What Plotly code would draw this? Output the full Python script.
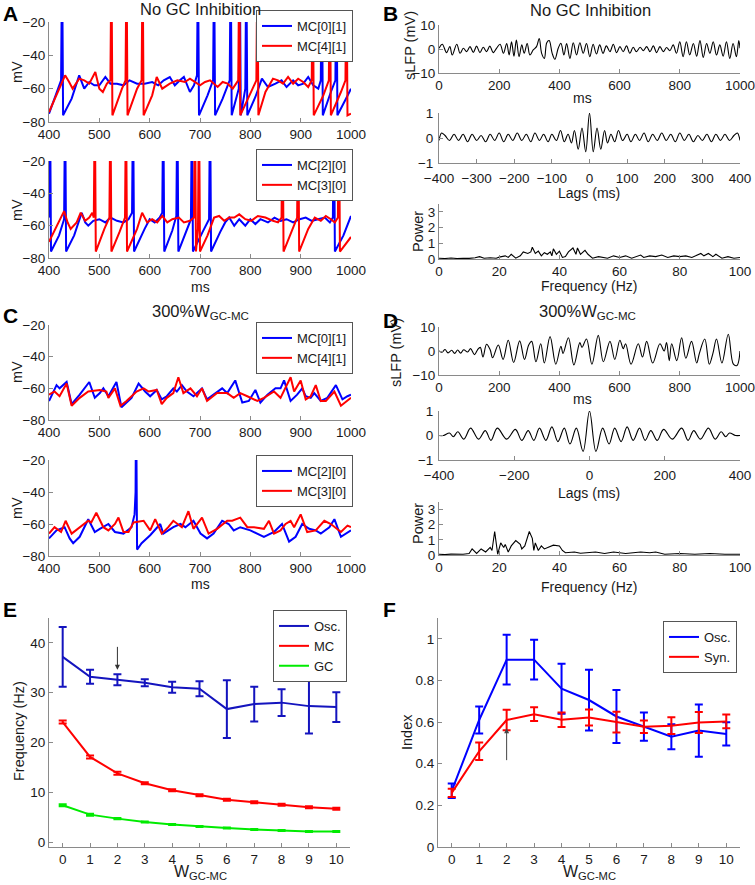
import plotly.graph_objects as go

W, H = 755, 885
FONT = "Liberation Sans, Arial, sans-serif"
BLUE = "rgb(0,0,255)"
RED = "rgb(255,0,0)"
GREEN = "rgb(0,235,0)"
EBLUE = "rgb(20,20,190)"
AXC = "#8a8a8a"

# ---------------- data: panel A (No GC inhibition), (t ms, mV) ----------------
a1_mc01 = [(400,-75),(424,-55),(426,20),(428,-76),(445,-66),(460,-52),(470,-60),(480,-56),(490,-58),
           (500,-58),(512,-53),(522,-57),(535,-57),(548,-58),(560,-55),(575,-57),(590,-57),(605,-56),
           (617,-58),(628,-55),(640,-53),(650,-58),(660,-55),(668,-53),(680,-62),(688,-58),(694,-52),
           (696,20),(698,-76),(715,-64),(726,-55),(728,20),(730,-76),(745,-66),(759,-55),(761,20),
           (763,-76),(777,-60),(779,20),(781,-76),(790,-60),(792,20),(794,-76),(810,-65),(823,-54),
           (835,-59),(850,-57),(862,-55),(872,-59),(885,-55),(895,-58),(905,-57),(915,-53),(925,-58),
           (935,-60),(940,-55),(942,20),(944,-76),(960,-62),(969,-55),(971,20),(973,-76),(990,-66),(1000,-60)]
a1_mc41 = [(400,-74),(420,-60),(432,-52),(440,-56),(447,-60),(460,-54),(470,-55),(480,-57),(492,-50),
           (500,-60),(507,-62),(515,-57),(522,-55),(524,20),(526,-76),(545,-60),(552,-55),(554,20),
           (556,-76),(575,-60),(584,-55),(586,20),(588,-76),(605,-64),(614,-53),(625,-60),(640,-57),
           (655,-55),(670,-56),(680,-54),(690,-56),(700,-58),(710,-56),(720,-55),(735,-59),(745,-56),
           (755,-57),(765,-60),(776,-55),(778,20),(780,-76),(795,-66),(812,-55),(814,20),(816,-76),
           (830,-62),(845,-54),(855,-55),(865,-57),(875,-53),(885,-57),(895,-54),(905,-56),(915,-59),
           (922,-55),(924,20),(926,-76),(945,-64),(956,-55),(958,20),(960,-76),(980,-62),(989,-55),
           (991,20),(993,-76),(1000,-75)]
a2_mc20 = [(400,-55),(401,-50),(402,20),(404,-76),(420,-66),(430,-56),(432,20),(434,-76),(450,-66),
           (458,-58),(465,-52),(472,-58),(478,-60),(488,-57),(500,-56),(512,-58),(522,-55),(535,-57),
           (548,-58),(558,-56),(565,-52),(567,20),(569,-76),(590,-62),(600,-56),(610,-58),(620,-55),
           (625,-52),(627,20),(629,-76),(645,-63),(653,-54),(655,20),(657,-76),(675,-62),(682,-56),
           (684,20),(686,-76),(705,-64),(718,-56),(720,20),(722,-76),(740,-64),(750,-58),(758,-55),
           (768,-60),(778,-56),(790,-60),(800,-56),(810,-59),(820,-56),(835,-58),(848,-55),(860,-57),
           (872,-56),(885,-58),(898,-56),(910,-55),(922,-57),(935,-56),(948,-55),(958,-58),(964,-55),
           (966,20),(968,-76),(985,-66),(1000,-54)]
a2_mc30 = [(400,-70),(415,-60),(430,-51),(437,-58),(443,-62),(455,-58),(463,-52),(472,-57),(480,-55),
           (486,-52),(489,-55),(491,20),(493,-76),(510,-62),(520,-55),(522,20),(524,-76),(540,-64),
           (551,-55),(553,20),(555,-76),(575,-62),(585,-52),(595,-58),(605,-56),(615,-58),(625,-54),
           (635,-58),(645,-56),(658,-55),(668,-58),(680,-57),(688,-55),(690,20),(692,-76),(696,-62),
           (698,20),(700,-76),(715,-66),(728,-55),(738,-54),(748,-57),(758,-55),(768,-55),(778,-53),
           (790,-56),(802,-57),(815,-54),(830,-55),(845,-57),(855,-58),(862,-55),(864,20),(866,-76),
           (885,-62),(893,-55),(895,20),(897,-76),(915,-62),(928,-55),(940,-57),(950,-54),(960,-56),
           (968,-58),(974,-55),(976,20),(978,-76),(1000,-67)]

# ---------------- data: panel C (300% W_GC-MC) ----------------
c1_mc01 = [(400,-68),(415,-58),(421,-60),(435,-56),(445,-70),(461,-64),(480,-56),(491,-66),(501,-63),
           (508,-60),(518,-65),(534,-56),(544,-72),(564,-66),(578,-57),(591,-62),(601,-65),(614,-61),
           (624,-67),(634,-65),(647,-60),(654,-62),(664,-58),(674,-62),(687,-65),(704,-60),(714,-67),
           (727,-64),(744,-60),(754,-63),(770,-55),(784,-69),(797,-68),(810,-61),(820,-69),(834,-64),
           (850,-60),(860,-60),(867,-55),(880,-68),(893,-64),(903,-60),(910,-65),(920,-66),(927,-63),
           (940,-68),(953,-66),(970,-58),(983,-67),(993,-65),(1000,-64)]
c1_mc41 = [(400,-64),(411,-62),(421,-65),(435,-57),(445,-71),(461,-66),(478,-62),(501,-61),(514,-62),
           (518,-66),(531,-60),(542,-71),(554,-68),(574,-62),(588,-60),(598,-62),(614,-61),(624,-70),
           (634,-66),(647,-63),(657,-53),(667,-63),(681,-60),(694,-65),(704,-60),(714,-68),(734,-63),
           (754,-63),(767,-66),(780,-63),(794,-65),(814,-68),(827,-66),(847,-62),(860,-66),(880,-53),
           (887,-62),(893,-59),(900,-55),(910,-67),(920,-65),(930,-58),(940,-68),(950,-68),(967,-62),
           (980,-71),(1000,-66)]
c2_mc20 = [(400,-69),(415,-64),(431,-62),(441,-69),(448,-72),(461,-68),(478,-57),(491,-65),(501,-63),
           (518,-60),(531,-65),(548,-66),(564,-62),(570,-54),(572,-40),(573,20),(575,-76),(584,-72),
           (601,-67),(621,-60),(627,-66),(647,-62),(661,-60),(671,-62),(687,-58),(701,-66),(714,-69),
           (727,-66),(744,-58),(757,-60),(767,-64),(780,-62),(800,-64),(815,-66),(827,-68),(847,-65),
           (863,-60),(877,-71),(890,-68),(903,-60),(917,-63),(930,-64),(940,-66),(957,-62),(967,-57),
           (980,-68),(1000,-64)]
c2_mc30 = [(400,-66),(411,-62),(424,-65),(433,-58),(445,-66),(461,-62),(478,-58),(484,-59),(494,-53),
           (508,-62),(518,-64),(531,-60),(538,-56),(548,-65),(558,-65),(568,-59),(588,-58),(601,-64),
           (611,-57),(624,-66),(637,-62),(647,-58),(664,-62),(677,-52),(687,-63),(704,-56),(717,-66),
           (734,-63),(754,-58),(764,-58),(780,-56),(794,-62),(807,-62),(827,-63),(837,-58),(847,-66),
           (860,-64),(870,-60),(880,-58),(887,-62),(900,-54),(913,-65),(930,-64),(947,-58),(960,-60),
           (980,-65),(993,-61),(1000,-62)]

# ---------------- data: panel B / D (sLFP, autocorrelation, power) ----------------
b_lfp = [(0,0.3),(11,2),(25,-1.5),(36,1),(44,-2.5),(59,2),(70,-1.8),(81,0.3),(92,-1.1),(103,1),
         (114,-1.4),(125,1.2),(136,-1.5),(147,0.7),(158,-1.1),(169,1.2),(180,-1.5),(191,0.3),(203,2),
         (214,-1.8),(225,2.3),(233,-2.5),(241,3),(249,-3),(257,3.7),(266,-3.2),(275,1.7),(283,-1.8),
         (293,2.3),(302,-2.5),(313,-0.4),(324,1),(333,4.4),(341,-1.8),(350,-3.9),(358,2.6),(366,3.5),
         (376,-1.8),(385,-4.3),(396,0.3),(405,2.4),(415,-2.5),(424,2.3),(435,-3.9),(446,2.6),(457,-2.5),
         (468,2.6),(479,-1.8),(490,2.3),(501,-3.2),(512,2),(523,-2.1),(534,1.7),(545,-1.8),(556,1.3),
         (568,-1.1),(579,2),(590,-1.5),(601,1),(612,-1.1),(623,1.3),(634,-1.8),(645,0.7),(656,-1.1),
         (668,0.7),(679,-0.7),(690,1),(701,-1.1),(712,1.3),(723,-1.5),(734,1),(745,-1.1),(756,0.6),
         (767,-0.7),(778,1.7),(789,-1.8),(800,3),(811,-3.2),(822,3),(833,-2.5),(845,2.3),(856,-3),
         (867,3.5),(878,-3.5),(889,2.3),(900,-1.8),(911,3),(922,-2.5),(933,1.7),(944,-3),(955,3),
         (966,-3.9),(977,2.3),(988,-3.2),(996,3.5),(1000,0.3)]
d_lfp = [(0,0),(10,-0.5),(20,0.6),(30,-0.8),(42,0.3),(52,-1),(62,0.4),(72,-0.9),(82,0.5),(95,-0.4),
         (105,1),(118,-1.5),(128,0.5),(137,1.5),(146,-2.5),(158,2.8),(170,0.5),(178,-2.8),(197,2.5),
         (213,-3.5),(230,4.5),(248,-4.8),(268,4.2),(284,-3.5),(298,2.5),(308,4),(322,-4.5),(338,3),
         (350,-5),(369,6),(388,-5.5),(405,2),(412,-1),(430,5.5),(448,-5.8),(468,3.5),(475,1.5),(490,5),
         (508,-5.5),(529,6.5),(546,-4.5),(568,4),(584,-3.5),(601,4.5),(612,1),(620,3),(638,-5.5),
         (662,3),(676,-2.5),(690,4),(710,-5),(734,3),(748,0),(756,3.5),(765,-4),(773,3),(790,-4),
         (806,5.5),(820,-3),(839,4),(856,-5),(865,-1),(883,5),(898,-5.5),(910,-1),(922,5),(940,-5),
         (961,7),(978,-5.5),(990,-6),(1000,0)]
# autocorrelation, non-negative lags (function is symmetric)
b_lag_pos = [(0,1),(10,-0.55),(20,0.4),(30,-0.45),(40,0.3),(48,-0.2),(57,0.15),(67,-0.15),(77,0.3),
             (88,-0.1),(100,0.15),(110,-0.15),(122,0.15),(133,-0.1),(145,0.2),(156,-0.15),(168,0.15),
             (180,-0.1),(192,0.2),(204,-0.1),(216,0.15),(228,-0.15),(240,0.2),(252,-0.1),(264,0.15),
             (276,-0.15),(288,0.1),(300,-0.1),(312,0.15),(324,-0.15),(336,0.15),(348,-0.1),(360,0.15),
             (372,-0.1),(384,0.1),(393,0.2),(400,-0.1)]
d_lag_pos = [(0,1),(17,-0.65),(35,0.3),(52,-0.35),(67,0.3),(84,-0.25),(100,0.35),(116,-0.2),
             (133,0.3),(148,-0.2),(163,0.2),(180,-0.2),(197,0.25),(220,-0.15),(245,0.3),(262,-0.2),
             (277,0.2),(295,-0.15),(316,0.3),(334,-0.15),(350,0.15),(362,-0.05),(372,0.1),(388,0.0),(400,0.0)]
b_pow = [(0,0.05),(2,0.03),(4,0.06),(6,0.03),(8,0.05),(10,0.04),(12,0.08),(13.5,0.15),(15,0.05),
         (17,0.08),(19,0.05),(20,0.12),(22,0.2),(23,0.1),(24,0.3),(25.5,0.05),(27,0.2),(28,0.45),
         (29.5,0.35),(30.5,0.45),(31,0.75),(32,0.35),(33,0.5),(34,0.2),(35,0.4),(36,0.3),(37,0.45),
         (37.5,0.2),(38,0.65),(39,0.3),(40,0.5),(41,0.1),(42,0.15),(43,0.45),(44.5,0.7),(45.5,0.3),
         (46,0.7),(47,0.3),(48.5,0.55),(49.5,0.3),(51,0.05),(53,0.15),(56,0.05),(58,0.2),(60,0.1),
         (62,0.2),(64,0.05),(67,0.25),(68,0.1),(70,0.2),(72,0.15),(74,0.25),(76,0.1),(78,0.2),(80,0.15),
         (82,0.2),(84,0.1),(87,0.35),(88,0.2),(89.5,0.35),(91,0.15),(92,0.3),(94,0.05),(96,0.15),
         (98,0.05),(100,0.1)]
d_pow = [(0,0.05),(2,0.03),(4,0.06),(6,0.04),(8,0.05),(10,0.1),(11,0.4),(12.5,0.1),(14,0.4),
         (15.5,0.2),(17,0.5),(17.6,0.3),(18.5,1.55),(19.5,0.05),(20.5,0.8),(21.5,0.5),(22,0.7),
         (23,0.2),(24,0.6),(25.5,0.95),(27,0.7),(27.5,0.4),(28.5,0.6),(30,1.55),(31,1.1),(31.5,0.3),
         (32,0.8),(33,0.3),(34,0.6),(35,0.4),(36,0.5),(38,0.65),(40,0.6),(41,0.3),(42,0.15),(45,0.2),
         (47,0.12),(50,0.15),(52,0.2),(55,0.1),(58,0.2),(62,0.1),(65,0.15),(67,0.2),(70,0.15),(72,0.2),
         (75,0.05),(80,0.1),(85,0.05),(90,0.1),(95,0.05),(100,0.05)]

# ---------------- data: panels E and F ----------------
w_gc_mc = [0, 1, 2, 3, 4, 5, 6, 7, 8, 9, 10]
e_osc = [37.2, 33.2, 32.6, 32.0, 31.1, 30.8, 26.7, 27.7, 28.0, 27.3, 27.1]
e_osc_err = [6.0, 1.4, 1.1, 0.7, 1.1, 1.5, 5.8, 3.5, 2.7, 5.5, 3.0]
e_mc = [24.1, 17.1, 13.8, 11.8, 10.4, 9.4, 8.5, 8.0, 7.5, 7.0, 6.7]
e_mc_err = [0.3, 0.3, 0.3, 0.2, 0.2, 0.2, 0.2, 0.2, 0.2, 0.2, 0.2]
e_gc = [7.4, 5.5, 4.7, 4.0, 3.5, 3.1, 2.8, 2.5, 2.3, 2.1, 2.1]
e_gc_err = [0.2, 0.2, 0.15, 0.1, 0.1, 0.1, 0.1, 0.1, 0.1, 0.1, 0.1]
f_osc = [0.27, 0.61, 0.90, 0.90, 0.76, 0.706, 0.627, 0.578, 0.53, 0.559, 0.543]
f_osc_err = [0.035, 0.065, 0.12, 0.095, 0.12, 0.146, 0.127, 0.068, 0.06, 0.125, 0.056]
f_syn = [0.26, 0.46, 0.61, 0.638, 0.611, 0.622, 0.60, 0.578, 0.583, 0.598, 0.603]
f_syn_err = [0.02, 0.042, 0.049, 0.033, 0.035, 0.038, 0.05, 0.03, 0.04, 0.05, 0.033]


def xs(pairs):
    return [p[0] for p in pairs]


def ys(pairs):
    return [p[1] for p in pairs]


def mirror(pos):
    neg = [(-t, v) for t, v in reversed(pos[1:])]
    return neg + pos


fig = go.Figure()

# axis id: (x px range, y px range(top,bottom), xrange, yrange, xticks, yticks)
axes = {
    1: ((49, 351), (22, 122), [400, 1000], [-80, -20], list(range(400, 1001, 100)), [-80, -60, -40, -20]),
    2: ((49, 351), (161, 258), [400, 1000], [-80, -20], list(range(400, 1001, 100)), [-80, -60, -40, -20]),
    3: ((49, 351), (325, 420), [400, 1000], [-80, -20], list(range(400, 1001, 100)), [-80, -60, -40, -20]),
    4: ((49, 351), (460, 556), [400, 1000], [-80, -20], list(range(400, 1001, 100)), [-80, -60, -40, -20]),
    5: ((439, 740), (25, 73), [0, 1000], [-10, 10], list(range(0, 1001, 200)), [-10, 0, 10]),
    6: ((439, 740), (113, 163), [-400, 400], [-1, 1], list(range(-400, 401, 100)), [-1, 0, 1]),
    7: ((439, 740), (204, 259), [0, 100], [0, 3.5], list(range(0, 101, 20)), [0, 1, 2, 3]),
    8: ((439, 740), (327, 375), [0, 1000], [-10, 10], list(range(0, 1001, 200)), [-10, 0, 10]),
    9: ((439, 740), (411, 460), [-400, 400], [-1, 1], list(range(-400, 401, 200)), [-1, 0, 1]),
    10: ((439, 740), (502, 555), [0, 100], [0, 3.5], list(range(0, 101, 20)), [0, 1, 2, 3]),
    11: ((49, 350), (618, 847), [-0.5, 10.5], [-1, 45], w_gc_mc, [0, 10, 20, 30, 40]),
    12: ((438, 740), (618, 847), [-0.5, 10.5], [0, 1.1], w_gc_mc, [0, 0.2, 0.4, 0.6, 0.8, 1]),
}

TICKF = dict(family=FONT, size=13.5, color="#1a1a1a")

lay = {}
for i, (xp, yp, xr, yr, xt, yt) in axes.items():
    sx = "" if i == 1 else str(i)
    lay["xaxis" + sx] = dict(
        domain=[xp[0] / W, xp[1] / W], range=xr, anchor="y" + sx, tickvals=xt,
        ticks="inside", ticklen=4, tickcolor=AXC, showline=True, linecolor=AXC, linewidth=1,
        showgrid=False, zeroline=False, tickfont=TICKF, fixedrange=True, automargin=False,
        ticklabeloverflow="allow", ticklabelstandoff=3 if i in (6, 9) else 0)
    lay["yaxis" + sx] = dict(
        domain=[1 - yp[1] / H, 1 - yp[0] / H], range=yr, anchor="x" + sx, tickvals=yt,
        ticks="inside", ticklen=4, tickcolor=AXC, showline=True, linecolor=AXC, linewidth=1,
        showgrid=False, zeroline=False, tickfont=TICKF, fixedrange=True, automargin=False,
        ticklabeloverflow="allow", ticklabelstandoff=2 if i in (6, 9) else 0)


def ax(i):
    return ("x", "y") if i == 1 else ("x%d" % i, "y%d" % i)


def trace(i, pairs, color, name=None, legend=None, width=2, shape="linear"):
    xa, ya = ax(i)
    fig.add_trace(go.Scatter(
        x=xs(pairs), y=ys(pairs), mode="lines", xaxis=xa, yaxis=ya,
        line=dict(color=color, width=width, shape=shape),
        name=name, showlegend=name is not None, legend=legend, hoverinfo="skip"))


trace(1, a1_mc01, BLUE, "MC[0][1]", "legend")
trace(1, a1_mc41, RED, "MC[4][1]", "legend")
trace(2, a2_mc20, BLUE, "MC[2][0]", "legend2")
trace(2, a2_mc30, RED, "MC[3][0]", "legend2")
trace(3, c1_mc01, BLUE, "MC[0][1]", "legend3")
trace(3, c1_mc41, RED, "MC[4][1]", "legend3")
trace(4, c2_mc20, BLUE, "MC[2][0]", "legend4")
trace(4, c2_mc30, RED, "MC[3][0]", "legend4")

trace(5, b_lfp, "black", width=1.1, shape="spline")
trace(6, mirror(b_lag_pos), "black", width=1.1, shape="spline")
trace(7, b_pow, "black", width=1.1)
trace(8, d_lfp, "black", width=1.1, shape="spline")
trace(9, mirror(d_lag_pos), "black", width=1.1, shape="spline")
trace(10, d_pow, "black", width=1.1)


def errtrace(i, x, y, err, color, name, legend):
    xa, ya = ax(i)
    fig.add_trace(go.Scatter(
        x=x, y=y, mode="lines", xaxis=xa, yaxis=ya, name=name, legend=legend,
        line=dict(color=color, width=2),
        error_y=dict(type="data", array=err, visible=True, color=color, thickness=2, width=4),
        hoverinfo="skip"))


errtrace(11, w_gc_mc, e_osc, e_osc_err, EBLUE, "Osc.", "legend5")
errtrace(11, w_gc_mc, e_mc, e_mc_err, RED, "MC", "legend5")
errtrace(11, w_gc_mc, e_gc, e_gc_err, GREEN, "GC", "legend5")
errtrace(12, w_gc_mc, f_osc, f_osc_err, BLUE, "Osc.", "legend6")
errtrace(12, w_gc_mc, f_syn, f_syn_err, RED, "Syn.", "legend6")


def legbox(right_px, top_px):
    return dict(x=right_px / W, y=1 - top_px / H, xanchor="right", yanchor="top",
                bgcolor="white", bordercolor="#555", borderwidth=1,
                font=dict(family=FONT, size=13, color="#1a1a1a"),
                itemwidth=30, tracegroupgap=0)


lay.update(
    legend=legbox(353, 10),
    legend2=legbox(353, 149),
    legend3=legbox(353, 322),
    legend4=legbox(353, 455),
    legend5=legbox(347, 610),
    legend6=legbox(737, 621),
)

ann = []


def label(txt, x, y, size=14.5, angle=0, anchor="center", bold=False, yanchor="middle"):
    ann.append(dict(text=("<b>%s</b>" % txt) if bold else txt, x=x / W, y=1 - y / H,
                    xref="paper", yref="paper", xanchor=anchor, yanchor=yanchor,
                    showarrow=False, textangle=angle,
                    font=dict(family=FONT, size=size, color="black" if bold else "#1a1a1a")))


# panel letters
for txt, x, y in [("A", 1, 0), ("B", 381, 0), ("C", 1, 302), ("D", 381, 307), ("E", 1, 596), ("F", 381, 596)]:
    label(txt, x, y, size=21, anchor="left", bold=True, yanchor="top")
# panel titles
label("No GC Inhibition", 200, 9, size=16.5)
label("No GC Inhibition", 590, 10, size=16.5)
label("300%W<sub>GC-MC</sub>", 200, 312, size=16.5)
label("300%W<sub>GC-MC</sub>", 587, 312, size=16.5)
# y-axis titles
for txt, x, y in [("mV", 17, 72), ("mV", 17, 210), ("mV", 17, 372), ("mV", 17, 508),
                  ("sLFP (mV)", 410, 46), ("Power", 418, 232), ("sLFP (mV)", 396, 352),
                  ("Power", 418, 524), ("Frequency (Hz)", 19, 731), ("Index", 407, 732)]:
    label(txt, x, y, angle=-90)
# x-axis titles
for txt, x, y in [("ms", 200, 287), ("ms", 200, 584), ("ms", 582, 98), ("Lags (ms)", 589, 193),
                  ("Frequency (Hz)", 589, 286), ("ms", 582, 399), ("Lags (ms)", 589, 493),
                  ("Frequency (Hz)", 589, 587)]:
    label(txt, x, y, size=14)
label("W<sub>GC-MC</sub>", 200, 872, size=16)
label("W<sub>GC-MC</sub>", 589, 872, size=16)

# arrows marking W_GC-MC = 2
ann.append(dict(x=2, y=34.6, ax=2, ay=39.5, xref="x11", yref="y11", axref="x11", ayref="y11",
                showarrow=True, arrowhead=2, arrowsize=1, arrowwidth=1, arrowcolor="#333", text=""))
ann.append(dict(x=2, y=0.57, ax=2, ay=0.41, xref="x12", yref="y12", axref="x12", ayref="y12",
                showarrow=True, arrowhead=2, arrowsize=1, arrowwidth=1, arrowcolor="#444", text=""))

fig.update_layout(
    width=W, height=H, margin=dict(l=0, r=0, t=0, b=0),
    paper_bgcolor="white", plot_bgcolor="white",
    font=dict(family=FONT, color="#1a1a1a"),
    annotations=ann, **lay)

# remove the default page margin so the figure sits at the window's top-left corner
fig.write_html("out.html", config={"displayModeBar": False},
               post_script="document.body.style.margin='0';")
